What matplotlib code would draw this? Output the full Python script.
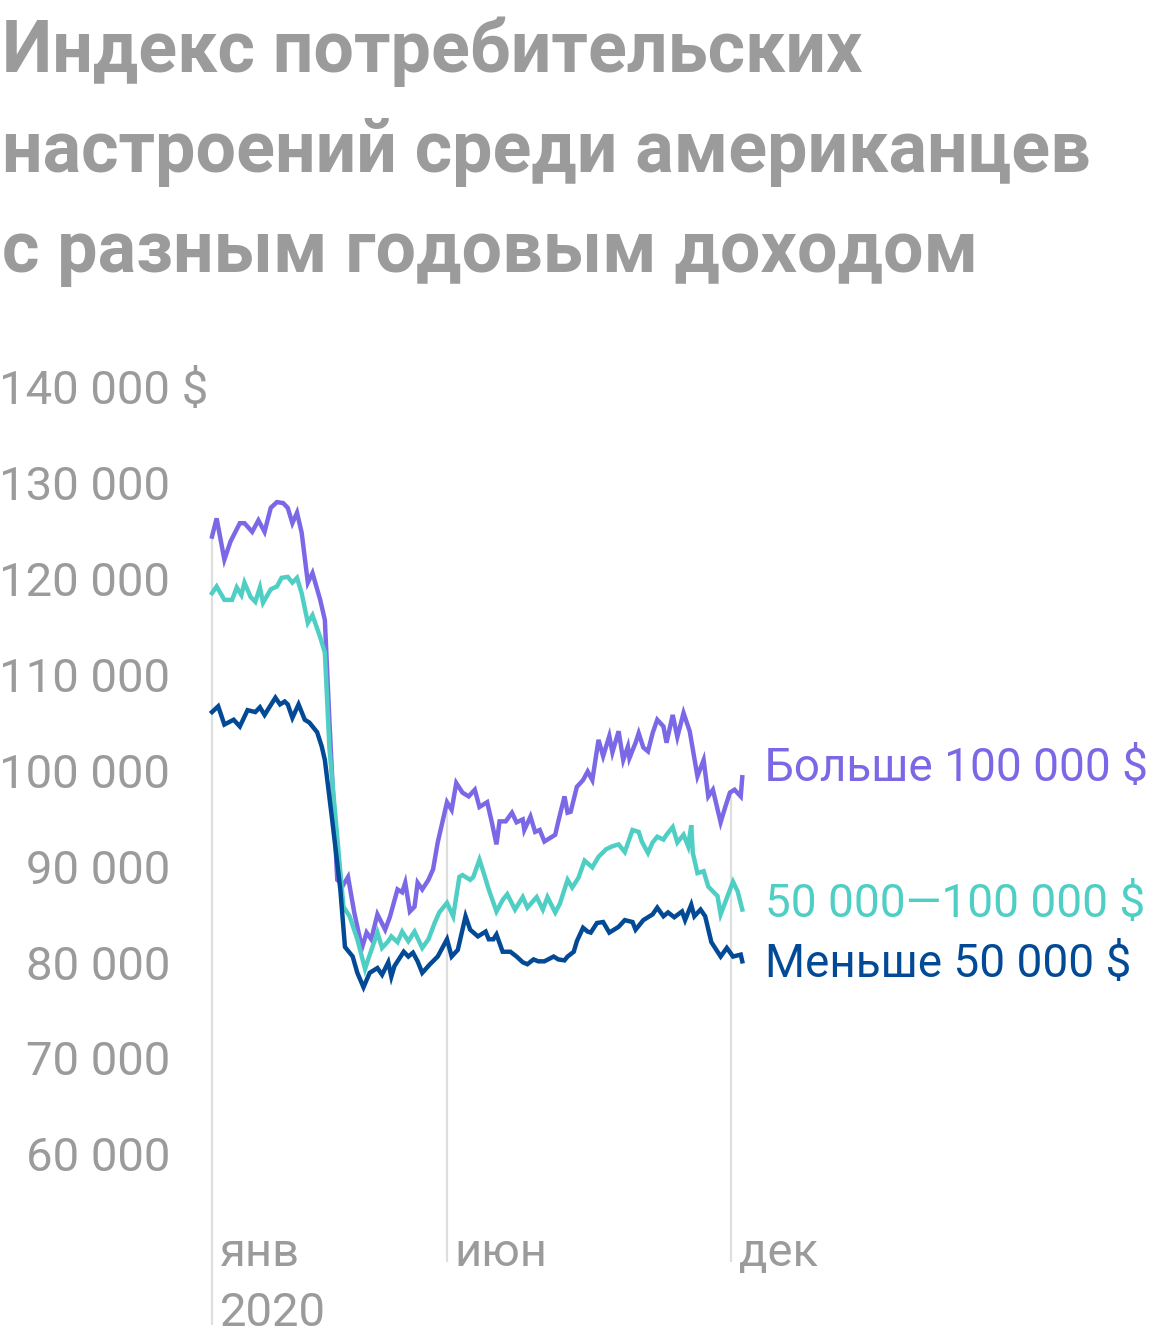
import numpy as np
import matplotlib
matplotlib.use("Agg")
import matplotlib.pyplot as plt

plt.rcParams['font.family'] = ['Roboto', 'DejaVu Sans']

# ---- data (day of year 2020, thousand $) ----
hi_days = [0, 3, 8, 12, 18, 21, 26, 30, 34, 38, 42, 46, 49, 52, 55, 58, 62, 65, 70, 73, 76,
           81, 85, 88, 92, 97, 100, 103, 107, 112, 115, 120, 123, 125, 128, 131, 133, 136, 140,
           143, 146, 152, 155, 158, 162, 166, 170, 173, 178, 181, 184, 186, 190, 194, 197, 201,
           202, 206, 209, 212, 215, 219, 222, 224, 228, 230, 232, 236, 240, 243, 246, 250, 253,
           257, 259, 263, 266, 269, 270, 274, 276, 279, 282, 285, 288, 292, 294, 298, 301, 305,
           309, 314, 318, 321, 324, 329, 332, 335, 338, 342, 343]
hi_vals = [124.5, 126.4, 122.1, 124.0, 125.9, 125.9, 125.0, 126.2, 125.0, 127.5, 128.1, 128.0,
           127.5, 125.9, 127.0, 124.9, 119.7, 120.7, 117.9, 115.8, 105.1,
           88.7, 88.2, 89.0, 85.3, 81.6, 83.2, 82.5, 85.1, 83.5, 84.8, 87.7, 87.4, 88.4, 85.4,
           85.9, 88.4, 87.7, 88.7, 89.8, 92.6, 96.8, 96.0, 98.8, 97.8, 97.4, 98.1, 96.3, 96.8,
           94.7, 92.4, 94.8, 94.8, 95.7, 94.7, 95.0, 93.9, 95.3, 93.7, 93.9, 92.7, 93.1, 93.4,
           94.8, 97.4, 95.7, 95.8, 98.4, 99.1, 100.0, 99.1, 103.3, 101.6, 103.7, 102.0, 104.2,
           101.2, 102.6, 101.4, 103.0, 104.0, 102.5, 102.1, 104.0, 105.4, 104.7, 103.0, 105.9,
           103.6, 106.1, 104.2, 99.5, 101.2, 97.4, 98.1, 94.7, 96.3, 97.8, 98.1, 97.4, 99.4]

mid_days = [0, 3, 8, 13, 16, 19, 21, 25, 28, 31, 33, 38, 42, 45, 49, 52, 55, 58, 62, 65, 70, 73,
            76, 85, 89, 94, 99, 101, 107, 110, 114, 116, 120, 123, 127, 131, 136, 140, 144, 147,
            152, 156, 160, 162, 167, 169, 173, 175, 179, 184, 188, 191, 196, 201, 204, 210, 214,
            217, 222, 225, 230, 233, 237, 241, 246, 250, 255, 259, 263, 267, 272, 276, 278, 282,
            285, 288, 292, 294, 298, 301, 305, 308, 310, 311, 314, 318, 321, 327, 329, 337, 340,
            343]
mid_vals = [118.6, 119.3, 117.9, 117.9, 119.2, 118.4, 119.7, 118.2, 117.7, 119.2, 117.6, 119.0,
            119.3, 120.2, 120.3, 119.7, 120.2, 118.6, 115.5, 116.3, 114.0, 112.4,
            102.3, 85.9, 84.9, 82.5, 79.4, 80.4, 83.2, 81.6, 82.3, 82.8, 82.2, 83.3, 82.3, 83.3,
            81.6, 82.5, 84.2, 85.3, 86.3, 84.9, 89.0, 89.2, 88.7, 89.0, 90.8, 89.8, 87.7, 85.4,
            86.6, 87.2, 85.6, 86.9, 85.8, 86.9, 85.6, 86.9, 85.3, 86.2, 88.7, 87.9, 88.9, 90.7,
            90.0, 91.1, 91.9, 92.2, 92.4, 91.6, 93.9, 93.7, 92.7, 91.5, 92.6, 93.2, 92.9, 93.4,
            94.2, 92.6, 93.4, 92.2, 94.4, 91.5, 89.4, 89.6, 88.0, 87.0, 85.1, 88.5, 87.5, 85.6]

lo_days = [0, 4, 8, 14, 18, 23, 28, 31, 34, 41, 44, 47, 49, 52, 56, 60, 63, 68, 71, 73, 78, 83,
           86, 91, 94, 98, 102, 107, 110, 114, 116, 118, 124, 127, 130, 133, 136, 141, 146, 152,
           155, 159, 164, 167, 172, 177, 179, 182, 184, 188, 193, 197, 201, 204, 208, 211, 215,
           221, 224, 228, 230, 234, 236, 240, 243, 245, 249, 253, 257, 263, 267, 272, 274, 279,
           285, 288, 292, 295, 299, 304, 306, 310, 312, 316, 319, 323, 329, 333, 337, 342, 343]
lo_vals = [106.2, 106.8, 104.9, 105.4, 104.7, 106.4, 106.2, 106.7, 105.9, 107.7, 107.0, 107.3,
           107.0, 105.6, 107.0, 105.4, 105.1, 104.1, 102.6, 101.2, 94.6, 87.7,
           81.7, 80.7, 79.0, 77.5, 79.0, 79.5, 78.8, 80.1, 78.6, 79.7, 81.2, 80.7, 81.1, 80.2,
           79.0, 79.9, 80.7, 82.5, 80.7, 81.4, 84.9, 83.5, 82.8, 83.3, 82.5, 82.5, 83.0, 81.2,
           81.2, 80.7, 80.1, 79.9, 80.4, 80.2, 80.2, 80.7, 80.4, 80.3, 80.7, 81.2, 82.3, 83.7,
           83.3, 83.2, 84.2, 84.3, 83.2, 83.8, 84.5, 84.3, 83.5, 84.5, 85.1, 85.8, 84.9, 85.3,
           84.8, 85.4, 84.5, 86.1, 84.9, 85.6, 84.9, 82.2, 80.7, 81.6, 80.7, 80.9, 80.2]

series_labels = ["Больше 100 000 $", "50 000—100 000 $", "Меньше 50 000 $"]
series_colors = ["#7b68e6", "#4fcfc4", "#034a96"]

y_ticks = [140, 130, 120, 110, 100, 90, 80, 70, 60]
y_tick_labels = ["140 000", "130 000", "120 000", "110 000", "100 000",
                 "90 000", "80 000", "70 000", "60 000"]
month_days = [0, 152, 336]
month_labels = ["янв", "июн", "дек"]
year_label = "2020"

title_lines = ["Индекс потребительских", "настроений среди американцев",
               "с разным годовым доходом"]

# ---- figure ----
W, H = 1160, 1344
fig = plt.figure(figsize=(W / 100, H / 100), dpi=100)

px_per_day = 1.546
px_per_k = 9.5875
x0_px, y140_px = 212, 388
xlim = (-10, 360)
ylim = (48.8, 142)
left_px = x0_px + xlim[0] * px_per_day
right_px = x0_px + xlim[1] * px_per_day
top_px = y140_px - (ylim[1] - 140) * px_per_k
bot_px = y140_px + (140 - ylim[0]) * px_per_k
ax = fig.add_axes([left_px / W, 1 - bot_px / H, (right_px - left_px) / W, (bot_px - top_px) / H])
ax.set_xlim(*xlim)
ax.set_ylim(*ylim)
ax.axis('off')

grey = "#9b9b9b"
grid_c = "#dedede"
fs_axis = 34
fs_lab = 33

# month lines from upper series value down to the bottom
for i, d in enumerate(month_days):
    top = np.interp(d, hi_days, hi_vals)
    bottom = 42.3 if i == 0 else ylim[0]
    ax.plot([d, d], [bottom, top], color=grid_c, lw=1.6, clip_on=False, zorder=1,
            solid_capstyle='butt')
    ax.text(d + 5, 49.8, month_labels[i], color=grey, fontsize=fs_axis,
            ha='left', va='center', clip_on=False)
ax.text(month_days[0] + 5, 43.5, year_label, color=grey, fontsize=fs_axis,
        ha='left', va='center', clip_on=False)

for days, vals, c in [(hi_days, hi_vals, series_colors[0]),
                      (mid_days, mid_vals, series_colors[1]),
                      (lo_days, lo_vals, series_colors[2])]:
    ax.plot(days, vals, color=c, lw=3.2, solid_joinstyle='miter', zorder=3)

# y tick labels (right-aligned numbers)
x_lab = (170 - x0_px) / px_per_day
for i, (v, s) in enumerate(zip(y_ticks, y_tick_labels)):
    t = ax.text(x_lab, v - 0.35, s, color=grey, fontsize=fs_axis, ha='right', va='center',
                clip_on=False)
    if i == 0:
        ax.annotate(" $", xy=(1, 0), xycoords=t, va='bottom', ha='left',
                    color=grey, fontsize=fs_axis)

# series labels
lab_x = (765 - x0_px) / px_per_day
lab_y = [100.4, 86.2, 79.9]
for s, c, yv in zip(series_labels, series_colors, lab_y):
    ax.text(lab_x, yv, s, color=c, fontsize=fs_lab, ha='left', va='center', clip_on=False)

# title
for i, line in enumerate(title_lines):
    fig.text(2 / W, 1 - (72 + 100 * i) / H, line, color=grey, fontsize=51.7,
             fontweight='bold', ha='left', va='baseline')

fig.savefig("out.png", dpi=100)
